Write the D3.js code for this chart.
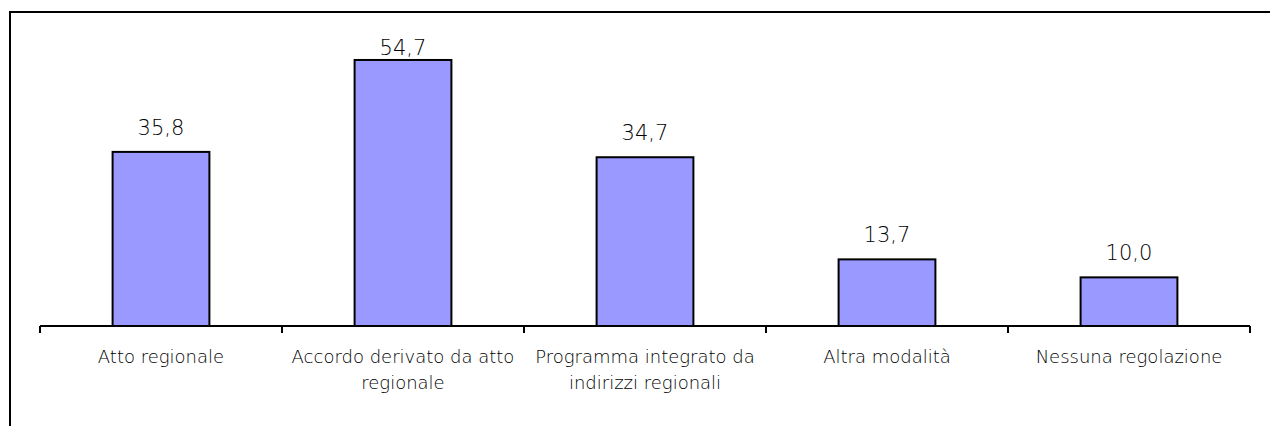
<!DOCTYPE html>
<html><head><meta charset="utf-8">
<script src="https://cdn.jsdelivr.net/npm/d3@7"></script>
<style>html,body{margin:0;padding:0;background:#fff;overflow:hidden}</style>
</head><body>
<svg id="c" width="1270" height="426"></svg>
<script>
const categories = ["Atto regionale","Accordo derivato da atto regionale","Programma integrato da indirizzi regionali","Altra modalità","Nessuna regolazione"];
const values = [35.8, 54.7, 34.7, 13.7, 10.0];
const valueLabels = ["35,8","54,7","34,7","13,7","10,0"];

const svg = d3.select("#c");
const font = "'DejaVu Sans', sans-serif";

// outer frame (extends past right/bottom edges)
svg.append("rect").attr("x",10).attr("y",12).attr("width",1300).attr("height",500)
  .attr("fill","#fff").attr("stroke","#000").attr("stroke-width",2);

const x = d3.scaleBand().domain(categories).range([40,1250]).paddingInner(0).paddingOuter(0);
const y = d3.scaleLinear().domain([0,60]).range([326, 34.2]);
const bw = x.bandwidth()*0.4;
const labelTopLimit = 55;

svg.selectAll("rect.bar").data(values).join("rect").attr("class","bar")
  .attr("x",(d,i)=>x(categories[i])+x.bandwidth()/2-bw/2)
  .attr("y",d=>y(d)).attr("width",bw).attr("height",d=>y(0)-y(d))
  .attr("fill","#9999FF").attr("stroke","#000").attr("stroke-width",2);

svg.selectAll("text.val").data(values).join("text").attr("class","val")
  .attr("x",(d,i)=>x(categories[i])+x.bandwidth()/2)
  .attr("y",d=>Math.max(y(d)-17, labelTopLimit)).attr("text-anchor","middle")
  .attr("font-family",font).attr("font-weight",300).attr("font-size",21).attr("fill","#000")
  .text((d,i)=>valueLabels[i]);

// axis
const g = svg.append("g").attr("transform","translate(0,326)");
g.append("line").attr("x1",40).attr("x2",1250).attr("stroke","#000").attr("stroke-width",2);
const edges = categories.map(c=>x(c)).concat([x.range()[1]]);
g.selectAll("line.tick").data(edges).join("line").attr("class","tick")
  .attr("x1",d=>d).attr("x2",d=>d).attr("y1",0).attr("y2",7).attr("stroke","#000").attr("stroke-width",2);

// category labels with wrapping
const maxW = x.bandwidth()+2;
categories.forEach(c=>{
  const cx = x(c)+x.bandwidth()/2;
  const t = svg.append("text").attr("x",cx).attr("y",363)
    .attr("text-anchor","middle").attr("font-family",font).attr("font-weight",300).attr("font-size",18).attr("fill","#000");
  const words = c.split(" ");
  let line = [];
  let ts = t.append("tspan").attr("x",cx).attr("dy",0);
  words.forEach(w=>{
    line.push(w); ts.text(line.join(" "));
    if (ts.node().getComputedTextLength() > maxW && line.length>1){
      line.pop(); ts.text(line.join(" "));
      line=[w];
      ts = t.append("tspan").attr("x",cx).attr("dy",26).text(w);
    }
  });
});
</script>
</body></html>
